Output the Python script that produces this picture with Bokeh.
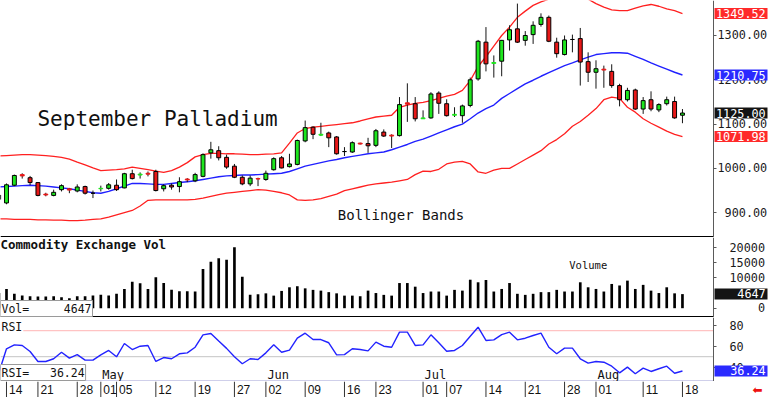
from bokeh.plotting import figure
from bokeh.layouts import column
from bokeh.models import Range1d, FixedTicker, Label, ColumnDataSource, LinearAxis
from bokeh.core.properties import value
from bokeh.embed import file_html
from bokeh.resources import INLINE

# trading-day index: -1 = Apr 11, 0 = Apr 14 ... 86 = Aug 18
idx = list(range(-1, 87))

opens = [930,
         922, 962, 986, 979, 968, 942, 939, 952, 954, 949,
         959, 944, 954, 955, 962, 956, 988, 985, 989, 993,
         954, 962, 959, 976, 972, 982, 1035, 1040, 1025, 1005,
         980, 965, 977, 975, 997, 1024, 1004, 1009, 1062, 1093,
         1075, 1080, 1071, 1038, 1037, 1057, 1056, 1052, 1082, 1075,
         1074, 1148, 1146, 1112, 1114, 1170, 1146, 1120, 1119, 1142,
         1202, 1285, 1237, 1242, 1290, 1315, 1289, 1302, 1325, 1341,
         1285, 1257, 1291, 1293, 1241, 1217, 1224, 1219, 1187, 1155,
         1177, 1134, 1155, 1132, 1146, 1151, 1120]
highs = [945,
         966, 986, 989, 983, 969, 945, 952, 964, 956, 964,
         961, 950, 961, 967, 975, 990, 997, 991, 993, 997,
         964, 966, 980, 978, 990, 1034, 1060, 1050, 1031, 1010,
         984, 984, 979, 995, 1025, 1028, 1033, 1065, 1108, 1095,
         1103, 1083, 1073, 1048, 1061, 1058, 1069, 1089, 1088, 1077,
         1161, 1192, 1161, 1131, 1172, 1174, 1156, 1138, 1144, 1205,
         1290, 1319, 1255, 1290, 1323, 1372, 1310, 1332, 1350, 1345,
         1295, 1300, 1302, 1317, 1262, 1244, 1232, 1235, 1191, 1182,
         1180, 1161, 1174, 1147, 1162, 1162, 1134]
lows = [925,
        919, 960, 977, 962, 937, 937, 937, 948, 944, 946,
        941, 933, 948, 952, 949, 955, 975, 977, 982, 948,
        948, 952, 946, 969, 969, 980, 1022, 1018, 999, 978,
        962, 960, 960, 972, 995, 1000, 1002, 1007, 1059, 1066,
        1073, 1048, 1031, 1028, 1035, 1054, 1035, 1048, 1071, 1046,
        1072, 1105, 1106, 1112, 1112, 1123, 1117, 1116, 1103, 1138,
        1198, 1219, 1205, 1208, 1266, 1283, 1277, 1281, 1320, 1285,
        1250, 1255, 1262, 1187, 1195, 1180, 1182, 1182, 1140, 1151,
        1132, 1123, 1129, 1127, 1142, 1112, 1102]
closes = [940,
          963, 984, 983, 968, 939, 940, 946, 961, 951, 958,
          944, 944, 955, 963, 952, 988, 977, 987, 987, 950,
          961, 958, 970, 974, 986, 1031, 1042, 1024, 1003, 980,
          965, 978, 976, 989, 1022, 1001, 1010, 1063, 1092, 1077,
          1077, 1069, 1033, 1038, 1058, 1055, 1051, 1085, 1073, 1073,
          1144, 1145, 1112, 1114, 1168, 1147, 1119, 1122, 1141, 1200,
          1287, 1236, 1239, 1289, 1313, 1285, 1300, 1323, 1341, 1287,
          1259, 1290, 1291, 1240, 1217, 1225, 1222, 1187, 1155, 1176,
          1134, 1153, 1134, 1144, 1155, 1114, 1125]

upper = [1028,
         1029, 1030, 1031, 1031, 1030, 1029, 1027, 1025, 1021, 1014,
         1008, 1001, 995, 996, 997, 999, 1003, 1000, 997, 994,
         991, 995, 1003, 1013, 1026, 1031, 1034, 1034, 1033, 1033,
         1032, 1031, 1031, 1032, 1033, 1035, 1057, 1080, 1090, 1093,
         1095, 1097, 1099, 1101, 1103, 1107, 1112, 1116, 1118, 1120,
         1138, 1143, 1147, 1149, 1153, 1158, 1163, 1167, 1176, 1198,
         1230, 1252, 1276, 1300, 1319, 1341, 1355, 1368, 1376, 1382,
         1387, 1390, 1390, 1388, 1382, 1372, 1364, 1358, 1356, 1356,
         1362, 1367, 1370, 1366, 1360, 1356, 1349.52]
middle = [958,
          959, 960, 961, 962, 961, 960, 958, 956, 954, 951,
          948, 945, 944, 948, 954, 960, 966, 966, 965, 964,
          964, 966, 968, 970, 972, 975, 978, 981, 983, 984,
          985, 985, 986, 987, 988, 989, 993, 999, 1005, 1009,
          1013, 1017, 1020, 1024, 1027, 1030, 1033, 1035, 1037, 1042,
          1048, 1054, 1061, 1066, 1073, 1080, 1087, 1094, 1100, 1112,
          1125, 1135, 1143, 1158, 1169, 1180, 1191, 1199, 1208, 1216,
          1224, 1232, 1238, 1245, 1251, 1257, 1259, 1261, 1261, 1260,
          1253, 1246, 1238, 1231, 1224, 1217, 1210.75]
lower = [886,
         886, 885, 885, 885, 884, 884, 883, 883, 882, 882,
         883, 885, 886, 890, 895, 900, 905, 915, 928, 929,
         929, 929, 929, 929, 930, 933, 937, 941, 944, 946,
         948, 950, 952, 951, 948, 945, 940, 929, 928, 929,
         932, 937, 942, 950, 954, 958, 962, 965, 967, 969,
         972, 975, 986, 994, 993, 998, 1010, 1014, 1016, 1010,
         992, 989, 996, 1000, 1000, 1010, 1020, 1030, 1040, 1055,
         1065, 1078, 1095, 1106, 1120, 1135, 1155, 1161, 1158, 1138,
         1127, 1112, 1102, 1093, 1084, 1077, 1071.98]

volume = [5000,
          6350, 4750, 4150, 3950, 3850, 3850, 3950, 3650, 3300, 3950,
          3950, 4150, 4400, 4150, 4750, 6350, 8750, 8200, 6350, 10200,
          8300, 6050, 5600, 5600, 5500, 12950, 15350, 16450, 16000, 20100,
          10400, 4400, 4600, 4900, 4150, 5700, 6900, 7250, 6550, 6050,
          5800, 5300, 4900, 4150, 4150, 3950, 5800, 5000, 4400, 4150,
          8300, 8300, 7100, 5000, 5500, 5500, 4150, 6050, 5800, 9400,
          8550, 9300, 5500, 6350, 8300, 4750, 4400, 4750, 5300, 5300,
          6050, 5500, 5500, 8550, 6900, 6350, 5500, 8000, 7500, 9100,
          6350, 7700, 5800, 5000, 6900, 4900, 4647]

rsi = [34.0,
       57.6, 61.4, 60.8, 55.0, 45.4, 45.4, 48.0, 54.3, 48.6, 52.0,
       46.7, 46.7, 51.8, 56.0, 49.9, 62.7, 56.9, 60.1, 60.8, 45.4,
       49.2, 48.0, 52.8, 53.7, 59.1, 71.0, 72.3, 65.0, 58.0, 50.0,
       43.2, 48.0, 47.3, 53.7, 61.4, 54.3, 56.3, 67.8, 72.6, 66.5,
       66.5, 63.4, 51.8, 52.0, 57.6, 56.9, 55.6, 64.0, 60.1, 59.1,
       73.6, 73.6, 60.8, 61.4, 71.0, 63.4, 55.3, 56.0, 60.8, 69.7,
       78.4, 65.6, 66.2, 71.3, 73.6, 66.2, 67.8, 70.4, 72.6, 59.1,
       52.8, 58.2, 58.2, 48.0, 43.8, 45.4, 44.7, 40.9, 34.5, 40.0,
       33.6, 39.0, 35.8, 38.4, 40.9, 34.1, 36.24]

price_ticks = [900, 1000, 1100, 1200, 1300]
price_tick_labels = ["\u00a0900.00", "1000.00", "1100.00", "1200.00", "1300.00"]
vol_ticks = [0, 10000, 15000, 20000]
vol_tick_labels = ["\u00a0\u00a0\u00a0\u00a00", "10000", "15000", "20000"]
rsi_ticks = [40, 60, 80]
rsi_tick_labels = ["40", "60", "80"]
rsi_levels = [75, 50]

date_tick_idx = [0, 4, 9, 12, 14, 19, 24, 29, 33, 38, 43, 47, 53, 56, 61, 66, 71, 75, 81, 86]
date_tick_labels = ["14", "21", "28", "01", "05", "12", "19", "27", "02", "09",
                    "16", "23", "01", "07", "14", "21", "28", "01", "11", "18"]
month_idx = [12, 33, 53, 75]
month_labels = ["May", "Jun", "Jul", "Aug"]

FONT = "DejaVu Sans Mono"
GREEN = "#1ee61e"
RED = "#e81818"
AXIS_COLOR = "#5a5a5a"

W = 768
PX_PER_DAY = 7.86
x_lo = -0.763
x_hi = x_lo + W / PX_PER_DAY
X_AXIS = x_lo + 713 / PX_PER_DAY          # price-axis line position
TAG_CX = X_AXIS + 27.5 / PX_PER_DAY        # centre of value tags

price_lo, price_hi = 844, 1379
vol_lo, vol_hi = -3070, 23330
rsi_lo, rsi_hi = 26.15, 87.7

xr = Range1d(x_lo, x_hi)


def panel(h, y_lo, y_hi):
    p = figure(width=W, height=h, frame_width=W, frame_height=h,
               x_range=xr, y_range=Range1d(y_lo, y_hi),
               output_backend="svg", toolbar_location=None,
               x_axis_location=None, y_axis_location=None,
               min_border_left=0, min_border_right=0, min_border_top=0, min_border_bottom=0,
               background_fill_color="white", border_fill_color="white",
               outline_line_color=None)
    p.grid.visible = False
    return p


def add_axis(p, ticks, labels, standoff):
    ax = LinearAxis(fixed_location=X_AXIS, ticker=FixedTicker(ticks=ticks),
                    major_label_overrides=dict(zip(ticks, labels)))
    ax.axis_line_color = AXIS_COLOR
    ax.major_tick_line_color = AXIS_COLOR
    ax.major_tick_out = 3
    ax.major_tick_in = 0
    ax.minor_tick_line_color = None
    ax.major_label_text_font = FONT
    ax.major_label_text_font_size = "11.8px"
    ax.major_label_text_color = "#1a1a1a"
    ax.major_label_standoff = standoff
    p.add_layout(ax, "right")


def tag(p, y, txt, bg):
    p.rect(x=[TAG_CX], y=[y], width=53, height=11, width_units="screen",
           height_units="screen", fill_color=bg, line_color=None, level="overlay")
    p.text(x=[X_AXIS], y=[y], text=[txt], x_offset=2.5, text_font=value(FONT),
           text_font_size="11.8px", text_color="white", text_baseline="middle",
           text_align="left", level="overlay")


def hline(p, y, color, width):
    p.segment(x0=[x_lo], y0=[y], x1=[X_AXIS], y1=[y], line_color=color, line_width=width)


# ---------------- price panel ----------------
pm = panel(237, price_lo, price_hi)
add_axis(pm, price_ticks, price_tick_labels, 1)

pm.line(idx, upper, line_color="#ff2020", line_width=1.3)
pm.line(idx, lower, line_color="#ff2020", line_width=1.3)
pm.line(idx, middle, line_color="#2020ff", line_width=1.4)

fills, edges = [], []
for o, c in zip(opens, closes):
    col = GREEN if c > o else (RED if c < o else "black")
    fills.append(col)
    edges.append(col if 0 < abs(c - o) < 4 else "black")
src = ColumnDataSource(dict(x=idx, h=highs, l=lows,
                            top=[max(o, c) for o, c in zip(opens, closes)],
                            bot=[min(o, c) for o, c in zip(opens, closes)],
                            fill=fills, edge=edges))
pm.segment(x0="x", y0="l", x1="x", y1="h", source=src, line_color="#151515", line_width=1)
pm.vbar(x="x", width=0.5, top="top", bottom="bot", source=src,
        fill_color="fill", line_color="edge", line_width=1)

pm.add_layout(Label(x=3.94, y=1111, text="September Palladium", text_font=FONT,
                    text_font_size="21px", text_color="#111111", text_baseline="alphabetic"))
pm.add_layout(Label(x=42.15, y=895, text="Bollinger Bands", text_font=FONT,
                    text_font_size="14px", text_color="#111111", text_baseline="alphabetic"))
hline(pm, price_lo, "black", 3)

tag(pm, upper[-1], f"{upper[-1]:.2f}", "#ff2a2a")
tag(pm, middle[-1], f"{middle[-1]:.2f}", "#2a2aff")
tag(pm, closes[-1], f"{closes[-1]:.2f}", "#141414")
tag(pm, lower[-1], f"{lower[-1]:.2f}", "#ff2a2a")

# ---------------- volume panel ----------------
pv = panel(80, vol_lo, vol_hi)
add_axis(pv, vol_ticks, vol_tick_labels, 13)
pv.vbar(x=idx, width=0.34, top=volume, bottom=0, fill_color="black", line_color=None)
hline(pv, vol_lo, "black", 3)
pv.add_layout(Label(x=x_lo, y=20900, text="Commodity Exchange Vol", text_font=FONT,
                    text_font_style="bold", text_font_size="12.5px", text_color="#111111",
                    text_baseline="alphabetic"))
pv.add_layout(Label(x=71.6, y=14300, text="Volume", text_font=FONT,
                    text_font_size="10.5px", text_color="#111111", text_baseline="alphabetic"))
pv.add_layout(Label(x=x_lo, y=vol_lo, y_offset=1,
                    text="Vol=\u00a0\u00a0\u00a0\u00a0\u00a0" + str(volume[-1]),
                    text_font=FONT, text_font_size="11.5px", text_color="#111111",
                    text_baseline="bottom", background_fill_color="white",
                    border_line_color="#9a9a9a", padding=1))
tag(pv, volume[-1], "\u00a0\u00a0\u00a0" + str(volume[-1]), "#141414")

# ---------------- RSI panel ----------------
pr = panel(64, rsi_lo, rsi_hi)
add_axis(pr, rsi_ticks, rsi_tick_labels, 13)
hline(pr, rsi_levels[0], "#ffb4b4", 1)
hline(pr, rsi_levels[1], "#c4c4c4", 1)
pr.line(idx, rsi, line_color="#2222ff", line_width=1.4)
hline(pr, rsi_lo, "#cfcfea", 3)
pr.text(x=month_idx, y=[rsi_lo] * len(month_idx), text=month_labels, x_offset=1.5,
        y_offset=0, text_font=value(FONT), text_font_size="12px", text_color="#111111",
        text_baseline="bottom")
pr.add_layout(Label(x=x_lo, y=rsi_hi, y_offset=-1, text="RSI", text_font=FONT,
                    text_font_size="11.5px", text_color="#111111", text_baseline="top",
                    background_fill_color="white", padding=1))
pr.add_layout(Label(x=x_lo, y=rsi_lo, y_offset=1, text="RSI=\u00a0\u00a0\u00a0" + f"{rsi[-1]:.2f}",
                    text_font=FONT, text_font_size="11.5px", text_color="#111111",
                    text_baseline="bottom", background_fill_color="white",
                    border_line_color="#9a9a9a", padding=1))
tag(pr, rsi[-1], "\u00a0\u00a0" + f"{rsi[-1]:.2f}", "#2a2aff")

# ---------------- date strip ----------------
ps = panel(16, 0, 1)
ps.segment(x0=date_tick_idx, y0=[0] * len(date_tick_idx), x1=date_tick_idx,
           y1=[1] * len(date_tick_idx), line_color="#333333", line_width=1)
ps.text(x=date_tick_idx, y=[0.5] * len(date_tick_idx), text=date_tick_labels, x_offset=2.5,
        text_font=value("Liberation Sans"), text_font_size="12px",
        text_color="#111111", text_baseline="middle")
ps.text(x=[X_AXIS], y=[0.5], text=["\u2b05"], x_offset=39, text_font=value("DejaVu Sans"),
        text_font_size="12px", text_color="#ee1111", text_baseline="middle")

layout = column(pm, pv, pr, ps, spacing=0)
open("out.html", "w").write(file_html(layout, INLINE, title="September Palladium"))
